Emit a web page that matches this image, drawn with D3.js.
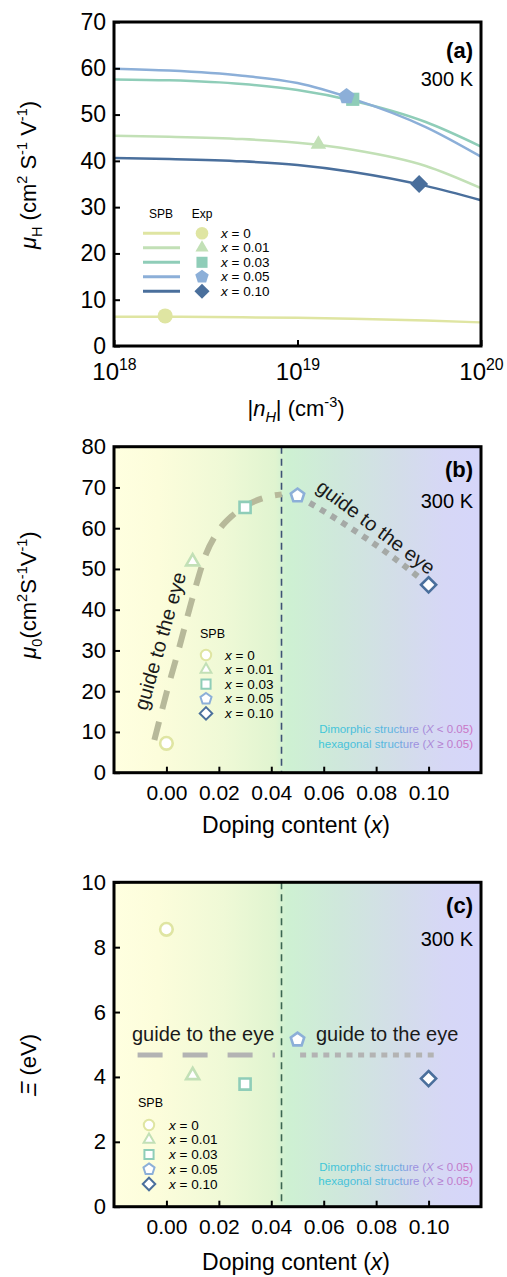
<!DOCTYPE html>
<html><head><meta charset="utf-8">
<script src="https://cdn.jsdelivr.net/npm/d3@7"></script>
<style>body{margin:0;background:#fff} svg{display:block;font-family:"Liberation Sans",Arial,sans-serif}</style>
</head><body><svg id="chart" width="507" height="1277"></svg>
<script>
// ---------------- DATA ----------------
const seriesLabels = ["0", "0.01", "0.03", "0.05", "0.10"];
const seriesColors = ["#dfe5a2", "#c2e0b6", "#8fcdb8", "#8cafd8", "#4a6f9c"];
const seriesShapes = ["circle", "triangle", "square", "pentagon", "diamond"];

// Panel (a): SPB curves mu_H vs |n_H|
const nH = [1e18, 2e18, 5e18, 1e19, 2e19, 5e19, 1e20];
const spbX000 = [6.3, 6.3, 6.2, 6.1, 5.9, 5.5, 5.1];
const spbX001 = [45.4, 45.2, 44.7, 43.9, 42.4, 38.9, 34.1];
const spbX003 = [57.6, 57.4, 56.6, 55.3, 53.0, 48.4, 43.1];
const spbX005 = [59.9, 59.5, 58.4, 56.8, 53.4, 47.3, 40.9];
const spbX010 = [40.6, 40.4, 39.9, 39.1, 37.6, 34.6, 31.5];
const spbCurves = [spbX000, spbX001, spbX003, spbX005, spbX010];
// Panel (a): experimental points
const expN = [1.9e18, 1.3e19, 2.0e19, 1.85e19, 4.6e19];
const expMu = [6.5, 43.6, 53.3, 53.9, 35.0];
const ticksA_y = [0, 10, 20, 30, 40, 50, 60, 70];
const ticksA_x = [1e18, 1e19, 1e20];
const ticksA_xExp = ["18", "19", "20"];

// Panel (b): mu_0 vs doping content
const doping = [0, 0.01, 0.03, 0.05, 0.10];
const mu0 = [7.2, 51.8, 65.1, 68.0, 46.1];
const guideB_leftX = [-0.0046, 0, 0.005, 0.01, 0.015, 0.02, 0.025, 0.03, 0.038, 0.044];
const guideB_leftY = [8, 19.5, 31, 43, 53.5, 59.5, 63.0, 65.4, 67.6, 68.3];
const guideB_rightX = [0.0546, 0.065, 0.076, 0.087, 0.0966];
const guideB_rightY = [66.2, 62.2, 57.6, 52.6, 47.8];
const ticksB_y = [0, 10, 20, 30, 40, 50, 60, 70, 80];
const ticksX = [0, 0.02, 0.04, 0.06, 0.08, 0.10];

// Panel (c): Xi vs doping content
const xi = [8.55, 4.05, 3.78, 5.15, 3.95];
const guideC_leftX = [-0.011, 0.0414];
const guideC_leftY = [4.68, 4.68];
const guideC_rightX = [0.051, 0.1021];
const guideC_rightY = [4.68, 4.68];
const ticksC_y = [0, 2, 4, 6, 8, 10];
const phaseBoundary = 0.0439;

// ---------------- HELPERS ----------------
const svg = d3.select("#chart");
const FONT = '"Liberation Sans", Arial, sans-serif';
const defs = svg.append("defs");

function shapeType(name) {
  return {
    draw(ctx, size) {
      const r = Math.sqrt(size);
      if (name === "circle") { ctx.moveTo(r, 0); ctx.arc(0, 0, r, 0, 2 * Math.PI); return; }
      let pts;
      if (name === "triangle") {
        const R = r * 1.2;
        pts = [[0, -R], [R * 0.866, R * 0.5], [-R * 0.866, R * 0.5]];
      } else if (name === "square") {
        const h = r * 0.88;
        pts = [[-h, -h], [h, -h], [h, h], [-h, h]];
      } else if (name === "pentagon") {
        const R = r * 1.12;
        pts = d3.range(5).map(k => { const a = -Math.PI / 2 + k * 2 * Math.PI / 5; return [R * Math.cos(a), R * Math.sin(a)]; });
      } else {
        const R = r * 1.2;
        pts = [[0, -R], [R, 0], [0, R], [-R, 0]];
      }
      ctx.moveTo(pts[0][0], pts[0][1]);
      pts.slice(1).forEach(p => ctx.lineTo(p[0], p[1]));
      ctx.closePath();
    }
  };
}
const sym = (name, r) => d3.symbol().type(shapeType(name)).size(r * r)();

function rich(textSel, parts, size) {
  let off = 0;
  parts.forEach(p => {
    const t = p[0], o = p[1] || {};
    let target = 0, fs = size;
    if (o.sub) { target = size * 0.28; fs = size * 0.66; }
    if (o.sup) { target = -size * 0.4; fs = size * 0.66; }
    const ts = textSel.append("tspan").text(t).attr("font-size", fs);
    if (target - off !== 0) ts.attr("dy", target - off);
    if (o.i) ts.attr("font-style", "italic");
    off = target;
  });
}

function yAxis(x, scale, ticks, size) {
  const a = svg.append("g").attr("transform", `translate(${x},0)`)
    .call(d3.axisLeft(scale).tickValues(ticks).tickSize(-6).tickPadding(8).tickFormat(d3.format("d")));
  a.attr("font-family", null).attr("font-size", null);
  a.select(".domain").remove();
  a.selectAll(".tick line").attr("stroke", "#000").attr("stroke-width", 2);
  a.selectAll(".tick text").attr("font-size", size).attr("fill", "#000").attr("font-family", FONT);
  return a;
}
function xAxisLin(y, scale, size) {
  const a = svg.append("g").attr("transform", `translate(0,${y})`)
    .call(d3.axisBottom(scale).tickValues(ticksX).tickSize(-6).tickPadding(12).tickFormat(d3.format(".2f")));
  a.attr("font-family", null).attr("font-size", null);
  a.select(".domain").remove();
  a.selectAll(".tick line").attr("stroke", "#000").attr("stroke-width", 2);
  a.selectAll(".tick text").attr("font-size", size).attr("fill", "#000").attr("font-family", FONT);
  return a;
}
function frame(x0, x1, y0, y1) {
  svg.append("rect").attr("x", x0).attr("y", y0).attr("width", x1 - x0).attr("height", y1 - y0)
    .attr("fill", "none").attr("stroke", "#000").attr("stroke-width", 3);
}
function cornerTexts(letter, x, yL, yK) {
  svg.append("text").attr("x", x).attr("y", yL).attr("text-anchor", "end").attr("font-weight", "bold")
    .attr("font-size", 22).text(letter);
  svg.append("text").attr("x", x).attr("y", yK).attr("text-anchor", "end").attr("font-size", 20).text("300 K");
}

// background gradient
const bg = defs.append("linearGradient").attr("id", "bgGrad").attr("x1", 0).attr("x2", 1).attr("y1", 0).attr("y2", 0);
[[0, "#ffffe0"], [0.12, "#fcfddb"], [0.3, "#eff9d6"], [0.44, "#e0f4d0"], [0.47, "#cef1d2"], [0.62, "#cfe7dc"], [0.78, "#d3dde9"], [0.9, "#d6d7f6"], [1, "#d6d6fa"]]
  .forEach(s => bg.append("stop").attr("offset", s[0]).attr("stop-color", s[1]));

function annotGrad(id, x0, x1) {
  const g = defs.append("linearGradient").attr("id", id).attr("gradientUnits", "userSpaceOnUse")
    .attr("x1", x0).attr("x2", x1).attr("y1", 0).attr("y2", 0);
  [[0, "#3ec8d6"], [0.5, "#5cb4e0"], [0.62, "#9a90e0"], [1, "#d070c0"]]
    .forEach(s => g.append("stop").attr("offset", s[0]).attr("stop-color", s[1]));
}
annotGrad("annGrad", 315, 473);

function annotation(y1, y2) {
  const t1 = svg.append("text").attr("x", 473).attr("y", y1).attr("text-anchor", "end").attr("font-size", 11.5).attr("fill", "url(#annGrad)");
  t1.append("tspan").text("Dimorphic structure (");
  t1.append("tspan").attr("font-style", "italic").text("X");
  t1.append("tspan").text(" <  0.05)");
  const t2 = svg.append("text").attr("x", 473).attr("y", y2).attr("text-anchor", "end").attr("font-size", 11.5).attr("fill", "url(#annGrad)");
  t2.append("tspan").text("hexagonal structure (");
  t2.append("tspan").attr("font-style", "italic").text("X");
  t2.append("tspan").text(" \u2265 0.05)");
}

function openLegend(x0, ySPB, yRow0, dy, xMark, xLab) {
  svg.append("text").attr("x", x0).attr("y", ySPB).attr("font-size", 12.5).text("SPB");
  seriesLabels.forEach((l, i) => {
    const y = yRow0 + i * dy;
    svg.append("path").attr("d", sym(seriesShapes[i], 5.2)).attr("transform", `translate(${xMark},${y})`)
      .attr("fill", "#fff").attr("stroke", seriesColors[i]).attr("stroke-width", 2);
    const t = svg.append("text").attr("x", xLab).attr("y", y + 4.5).attr("font-size", 13.5);
    t.append("tspan").attr("font-style", "italic").text("x");
    t.append("tspan").text(" = " + l);
  });
}

// ---------------- PANEL (a) ----------------
const xA = d3.scaleLog().domain([1e18, 1e20]).range([114, 481]);
const yA = d3.scaleLinear().domain([0, 70]).range([346, 22]);
const lineA = d3.line().x(d => xA(d[0])).y(d => yA(d[1])).curve(d3.curveMonotoneX);
spbCurves.forEach((c, i) => {
  svg.append("path").attr("d", lineA(nH.map((n, j) => [n, c[j]])))
    .attr("fill", "none").attr("stroke", seriesColors[i]).attr("stroke-width", 2.5);
});
expN.forEach((n, i) => {
  svg.append("path").attr("d", sym(seriesShapes[i], 7.5)).attr("transform", `translate(${xA(n)},${yA(expMu[i])})`)
    .attr("fill", seriesColors[i]);
});
yAxis(114, yA, ticksA_y, 23);
const axA = svg.append("g").attr("transform", "translate(0,346)")
  .call(d3.axisBottom(xA).tickValues(ticksA_x).tickSize(-6).tickPadding(17).tickFormat(""));
axA.select(".domain").remove();
axA.selectAll(".tick line").attr("stroke", "#000").attr("stroke-width", 2);
axA.selectAll(".tick").each(function (d, i) {
  const t = d3.select(this).append("text").attr("y", 34).attr("text-anchor", "middle").attr("fill", "#000")
    .attr("font-family", FONT);
  rich(t, [["10"], [ticksA_xExp[i], { sup: true }]], 24);
});
frame(114, 481, 22, 346);
cornerTexts("(a)", 473, 58, 86);
// legend (a)
svg.append("text").attr("x", 161).attr("y", 218).attr("text-anchor", "middle").attr("font-size", 12).text("SPB");
svg.append("text").attr("x", 202).attr("y", 218).attr("text-anchor", "middle").attr("font-size", 12).text("Exp");
seriesLabels.forEach((l, i) => {
  const y = 233.3 + i * 14.5;
  svg.append("line").attr("x1", 143).attr("x2", 180).attr("y1", y).attr("y2", y)
    .attr("stroke", seriesColors[i]).attr("stroke-width", 3);
  svg.append("path").attr("d", sym(seriesShapes[i], 6.3)).attr("transform", `translate(202,${y})`).attr("fill", seriesColors[i]);
  const t = svg.append("text").attr("x", 221).attr("y", y + 4.5).attr("font-size", 13.5);
  t.append("tspan").attr("font-style", "italic").text("x");
  t.append("tspan").text(" = " + l);
});
// labels (a)
const yLabA = svg.append("text").attr("transform", "translate(36,175) rotate(-90)").attr("text-anchor", "middle");
rich(yLabA, [["\u03bc", { i: true }], ["H", { sub: true }], [" (cm"], ["2", { sup: true }], [" S"], ["-1", { sup: true }], [" V"], ["-1", { sup: true }], [")"]], 22);
const xLabA = svg.append("text").attr("x", 296).attr("y", 416).attr("text-anchor", "middle");
rich(xLabA, [["|"], ["n", { i: true }], ["H", { sub: true, i: true }], ["| (cm"], ["-3", { sup: true }], [")"]], 22);

// ---------------- PANEL (b) ----------------
const xB = d3.scaleLinear().domain([-0.02, 0.12]).range([114, 481]);
const yB = d3.scaleLinear().domain([0, 80]).range([772.7, 446.7]);
svg.append("rect").attr("x", 114).attr("y", 446.7).attr("width", 367).attr("height", 326).attr("fill", "url(#bgGrad)");
svg.append("line").attr("x1", xB(phaseBoundary)).attr("x2", xB(phaseBoundary)).attr("y1", yB(80)).attr("y2", yB(0))
  .attr("stroke", "#3d5276").attr("stroke-width", 1.6).attr("stroke-dasharray", "7,5");
const lineB = d3.line().x(d => xB(d[0])).y(d => yB(d[1])).curve(d3.curveMonotoneX);
svg.append("path").attr("d", lineB(guideB_leftX.map((x, j) => [x, guideB_leftY[j]])))
  .attr("fill", "none").attr("stroke", "#b7b99a").attr("stroke-width", 6).attr("stroke-dasharray", "19,13");
svg.append("path").attr("d", lineB(guideB_rightX.map((x, j) => [x, guideB_rightY[j]])))
  .attr("fill", "none").attr("stroke", "#a5a9a6").attr("stroke-width", 6).attr("stroke-dasharray", "6,6.5");
doping.forEach((d, i) => {
  svg.append("path").attr("d", sym(seriesShapes[i], 6.3)).attr("transform", `translate(${xB(d)},${yB(mu0[i])})`)
    .attr("fill", "#fff").attr("stroke", seriesColors[i]).attr("stroke-width", 2.6);
});
svg.append("text").attr("transform", "translate(160,641) rotate(-74)").attr("text-anchor", "middle").attr("dy", "0.35em")
  .attr("font-size", 20).attr("fill", "#1a1a1a").text("guide to the eye");
svg.append("text").attr("transform", "translate(376,527) rotate(37)").attr("text-anchor", "middle").attr("dy", "0.35em")
  .attr("font-size", 20).attr("fill", "#1a1a1a").text("guide to the eye");
yAxis(114, yB, ticksB_y, 22);
xAxisLin(772.7, xB, 21);
frame(114, 481, 446.7, 772.7);
cornerTexts("(b)", 473, 477, 508);
openLegend(200, 638, 655, 14.6, 206, 225);
annotation(733, 748);
const yLabB = svg.append("text").attr("transform", "translate(36,595) rotate(-90)").attr("text-anchor", "middle");
rich(yLabB, [["\u03bc", { i: true }], ["0", { sub: true }], ["(cm"], ["2", { sup: true }], ["S"], ["-1", { sup: true }], ["V"], ["-1", { sup: true }], [")"]], 22);
const xLabB = svg.append("text").attr("x", 296).attr("y", 833).attr("text-anchor", "middle").attr("font-size", 23);
xLabB.append("tspan").text("Doping content (");
xLabB.append("tspan").attr("font-style", "italic").text("x");
xLabB.append("tspan").text(")");

// ---------------- PANEL (c) ----------------
const xC = d3.scaleLinear().domain([-0.02, 0.12]).range([114, 481]);
const yC = d3.scaleLinear().domain([0, 10]).range([1206.7, 882.3]);
svg.append("rect").attr("x", 114).attr("y", 882.3).attr("width", 367).attr("height", 324.4).attr("fill", "url(#bgGrad)");
svg.append("line").attr("x1", xC(phaseBoundary)).attr("x2", xC(phaseBoundary)).attr("y1", yC(10)).attr("y2", yC(0))
  .attr("stroke", "#3b6652").attr("stroke-width", 1.6).attr("stroke-dasharray", "7,5");
const lineC = d3.line().x(d => xC(d[0])).y(d => yC(d[1]));
svg.append("path").attr("d", lineC(guideC_leftX.map((x, j) => [x, guideC_leftY[j]])))
  .attr("fill", "none").attr("stroke", "#b3b3b3").attr("stroke-width", 5).attr("stroke-dasharray", "25,20");
svg.append("path").attr("d", lineC(guideC_rightX.map((x, j) => [x, guideC_rightY[j]])))
  .attr("fill", "none").attr("stroke", "#b3b3b3").attr("stroke-width", 5).attr("stroke-dasharray", "6,5.6");
doping.forEach((d, i) => {
  svg.append("path").attr("d", sym(seriesShapes[i], 6.3)).attr("transform", `translate(${xC(d)},${yC(xi[i])})`)
    .attr("fill", "#fff").attr("stroke", seriesColors[i]).attr("stroke-width", 2.6);
});
svg.append("text").attr("x", 132).attr("y", 1041).attr("font-size", 20).attr("fill", "#1a1a1a").text("guide to the eye");
svg.append("text").attr("x", 316).attr("y", 1041).attr("font-size", 20).attr("fill", "#1a1a1a").text("guide to the eye");
yAxis(114, yC, ticksC_y, 22);
xAxisLin(1206.7, xC, 21);
frame(114, 481, 882.3, 1206.7);
cornerTexts("(c)", 473, 913, 946);
openLegend(138, 1107, 1125, 14.75, 149, 169);
annotation(1171, 1184.5);
const yLabC = svg.append("text").attr("transform", "translate(36,1065) rotate(-90)").attr("text-anchor", "middle").attr("font-size", 22);
yLabC.append("tspan").attr("font-style", "italic").text("\u039e");
yLabC.append("tspan").text(" (eV)");
const xLabC = svg.append("text").attr("x", 296).attr("y", 1270).attr("text-anchor", "middle").attr("font-size", 23);
xLabC.append("tspan").text("Doping content (");
xLabC.append("tspan").attr("font-style", "italic").text("x");
xLabC.append("tspan").text(")");
</script></body></html>
